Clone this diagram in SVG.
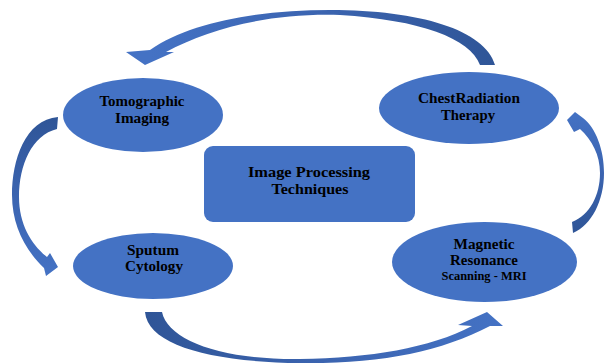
<svg xmlns="http://www.w3.org/2000/svg" width="604" height="364" viewBox="0 0 604 364">
  <defs>
    <style>
      .node { fill: #4472C4; }
      .lbl { font-family: "Liberation Serif", "Times New Roman", serif; font-weight: bold; font-size: 15px; fill: #000; text-anchor: middle; }
      .sm { font-size: 12.5px; }
    </style>
    <linearGradient id="gTop" gradientUnits="userSpaceOnUse" x1="495" y1="40" x2="150" y2="40">
      <stop offset="0" stop-color="#2F5597"/>
      <stop offset="0.5" stop-color="#3B64B0"/>
      <stop offset="1" stop-color="#4472C4"/>
    </linearGradient>
    <linearGradient id="gLeft" gradientUnits="userSpaceOnUse" x1="40" y1="117" x2="40" y2="276">
      <stop offset="0" stop-color="#2F5597"/>
      <stop offset="0.5" stop-color="#3B64B0"/>
      <stop offset="1" stop-color="#4472C4"/>
    </linearGradient>
    <linearGradient id="gRight" gradientUnits="userSpaceOnUse" x1="590" y1="233" x2="590" y2="112">
      <stop offset="0" stop-color="#2F5597"/>
      <stop offset="0.5" stop-color="#3B64B0"/>
      <stop offset="1" stop-color="#4472C4"/>
    </linearGradient>
    <linearGradient id="gBottom" gradientUnits="userSpaceOnUse" x1="145" y1="340" x2="503" y2="340">
      <stop offset="0" stop-color="#2F5597"/>
      <stop offset="0.5" stop-color="#3B64B0"/>
      <stop offset="1" stop-color="#4472C4"/>
    </linearGradient>
  </defs>
  <rect width="604" height="364" fill="#FFFFFF"/>

  <g id="connectors">
    <path id="arrow-chest-to-tomo" fill="url(#gTop)" d="M 480,65 C 470,38 420,20 340,15 C 270,13 210,28 166,52 L 174,52 L 145,65 L 126,52 L 150,50 C 190,22 260,10 330,10 C 420,10 485,30 495,65 Z"/>
    <path id="arrow-tomo-to-sputum" fill="url(#gLeft)" d="M 58,117 C 25,120 12,160 12,195 C 12,225 25,250 44,268 L 46,276 L 58,267 L 50,253 L 47,257 C 32,245 19,225 19,197 C 19,165 32,135 57,129 Z"/>
    <path id="arrow-sputum-to-mri" fill="url(#gBottom)" d="M 145,312 C 148,345 210,362 300,363 C 380,364 440,352 490,326 L 503,326 L 487,312 L 458,325 L 472,326 C 430,348 370,358 300,359 C 220,360 168,340 162,312 Z"/>
    <path id="arrow-mri-to-chest" fill="url(#gRight)" d="M 572,222 C 590,215 600,195 600,173 C 600,155 592,140 580,129 L 574,132 L 567,120 L 575,112 L 583,118 C 596,128 604,150 604,173 C 604,200 592,225 573,233 Z"/>
  </g>

  <g id="node-tomographic">
    <ellipse class="node" cx="143" cy="115" rx="80" ry="37"/>
    <text class="lbl" x="142" y="106" textLength="85" lengthAdjust="spacingAndGlyphs">Tomographic</text>
    <text class="lbl" x="142" y="123" textLength="54" lengthAdjust="spacingAndGlyphs">Imaging</text>
  </g>

  <g id="node-chest">
    <ellipse class="node" cx="469" cy="108" rx="90" ry="36"/>
    <text class="lbl" x="469" y="103" textLength="102" lengthAdjust="spacingAndGlyphs">ChestRadiation</text>
    <text class="lbl" x="468" y="120" textLength="54" lengthAdjust="spacingAndGlyphs">Therapy</text>
  </g>

  <g id="node-center">
    <rect class="node" x="204" y="146" width="211" height="76" rx="9" ry="9"/>
    <text class="lbl" x="309" y="177" textLength="122" lengthAdjust="spacingAndGlyphs">Image Processing</text>
    <text class="lbl" x="310" y="194" textLength="77" lengthAdjust="spacingAndGlyphs">Techniques</text>
  </g>

  <g id="node-sputum">
    <ellipse class="node" cx="153" cy="266" rx="80" ry="33"/>
    <text class="lbl" x="153" y="255" textLength="52" lengthAdjust="spacingAndGlyphs">Sputum</text>
    <text class="lbl" x="154" y="271" textLength="58" lengthAdjust="spacingAndGlyphs">Cytology</text>
  </g>

  <g id="node-mri">
    <ellipse class="node" cx="484.5" cy="262" rx="92.5" ry="40"/>
    <text class="lbl" x="484" y="249" textLength="61" lengthAdjust="spacingAndGlyphs">Magnetic</text>
    <text class="lbl" x="484" y="265" textLength="68" lengthAdjust="spacingAndGlyphs">Resonance</text>
    <text class="lbl sm" x="484" y="280" textLength="85" lengthAdjust="spacingAndGlyphs">Scanning - MRI</text>
  </g>
</svg>
